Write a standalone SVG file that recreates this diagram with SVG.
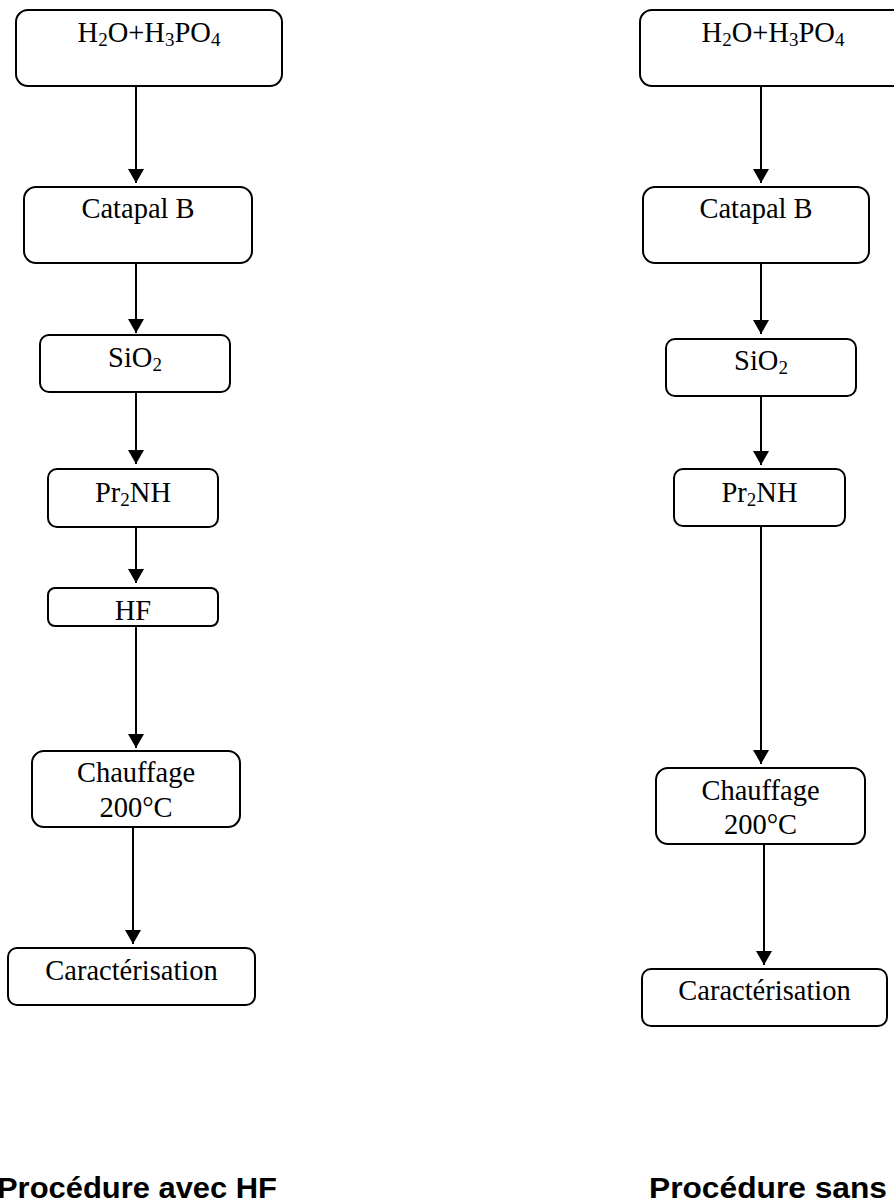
<svg xmlns="http://www.w3.org/2000/svg" width="894" height="1202" viewBox="0 0 894 1202">
<style>
.box{fill:#fff;stroke:#000;stroke-width:2}
.t{font-family:"Liberation Serif","Times New Roman",serif;font-size:28.5px;fill:#000;text-anchor:middle}
.s{font-size:19px}
.title{font-family:"Liberation Sans",Arial,sans-serif;font-weight:bold;font-size:30px;fill:#000}
.c{stroke:#000;stroke-width:2;fill:none;marker-end:url(#ah)}
</style>
<defs>
<marker id="ah" markerUnits="userSpaceOnUse" markerWidth="14" markerHeight="16" refX="14" refY="8" orient="auto">
<path d="M0,0 L14,8 L0,16 z" fill="#000"/>
</marker>
</defs>
<rect width="894" height="1202" fill="#fff"/>
<g id="connectors">
<line class="c" x1="136" y1="86" x2="136" y2="183"/>
<line class="c" x1="136" y1="263" x2="136" y2="333"/>
<line class="c" x1="136" y1="392" x2="136" y2="464"/>
<line class="c" x1="136" y1="527" x2="136" y2="583"/>
<line class="c" x1="136" y1="626" x2="136" y2="748"/>
<line class="c" x1="133" y1="827" x2="133" y2="944"/>
<line class="c" x1="761" y1="86" x2="761" y2="183"/>
<line class="c" x1="761" y1="263" x2="761" y2="334"/>
<line class="c" x1="761" y1="393" x2="761" y2="465"/>
<line class="c" x1="761" y1="526" x2="761" y2="764"/>
<line class="c" x1="764" y1="844" x2="764" y2="965"/>
</g>
<g id="L1"><rect class="box" x="16" y="10" width="266" height="76" rx="12"/><text class="t" x="149" y="42">H<tspan class="s" dy="4">2</tspan><tspan dy="-4">O+H</tspan><tspan class="s" dy="4">3</tspan><tspan dy="-4">PO</tspan><tspan class="s" dy="4">4</tspan></text></g>
<g id="L2"><rect class="box" x="24" y="187" width="228" height="76" rx="12"/><text class="t" x="138" y="218">Catapal B</text></g>
<g id="L3"><rect class="box" x="40" y="335" width="190" height="57" rx="9"/><text class="t" x="135" y="367">SiO<tspan class="s" dy="4">2</tspan></text></g>
<g id="L4"><rect class="box" x="48" y="469" width="170" height="58" rx="9"/><text class="t" x="133" y="502">Pr<tspan class="s" dy="4">2</tspan><tspan dy="-4">NH</tspan></text></g>
<g id="L5"><rect class="box" x="48" y="588" width="170" height="38" rx="7"/><text class="t" x="133" y="620">HF</text></g>
<g id="L6"><rect class="box" x="32" y="751" width="208" height="76" rx="12"/><text class="t" x="136" y="782">Chauffage</text><text class="t" x="136" y="817">200°C</text></g>
<g id="L7"><rect class="box" x="8" y="948" width="247" height="57" rx="9"/><text class="t" x="131.5" y="980">Caractérisation</text></g>
<g id="R1"><rect class="box" x="640" y="10" width="266" height="76" rx="12"/><text class="t" x="773" y="42">H<tspan class="s" dy="4">2</tspan><tspan dy="-4">O+H</tspan><tspan class="s" dy="4">3</tspan><tspan dy="-4">PO</tspan><tspan class="s" dy="4">4</tspan></text></g>
<g id="R2"><rect class="box" x="643" y="187" width="226" height="76" rx="12"/><text class="t" x="756" y="218">Catapal B</text></g>
<g id="R3"><rect class="box" x="666" y="339" width="190" height="57" rx="9"/><text class="t" x="761" y="370">SiO<tspan class="s" dy="4">2</tspan></text></g>
<g id="R4"><rect class="box" x="674" y="469" width="171" height="57" rx="9"/><text class="t" x="759.5" y="502">Pr<tspan class="s" dy="4">2</tspan><tspan dy="-4">NH</tspan></text></g>
<g id="R5"><rect class="box" x="656" y="768" width="209" height="76" rx="12"/><text class="t" x="760.5" y="800">Chauffage</text><text class="t" x="760.5" y="834">200°C</text></g>
<g id="R6"><rect class="box" x="642" y="969" width="245" height="57" rx="9"/><text class="t" x="764.5" y="1000">Caractérisation</text></g>
<g id="titles">
<text class="title" x="-3" y="1198" textLength="280" lengthAdjust="spacingAndGlyphs">Procédure avec HF</text>
<text class="title" x="649" y="1198" textLength="238" lengthAdjust="spacingAndGlyphs">Procédure sans</text>
</g>
</svg>
